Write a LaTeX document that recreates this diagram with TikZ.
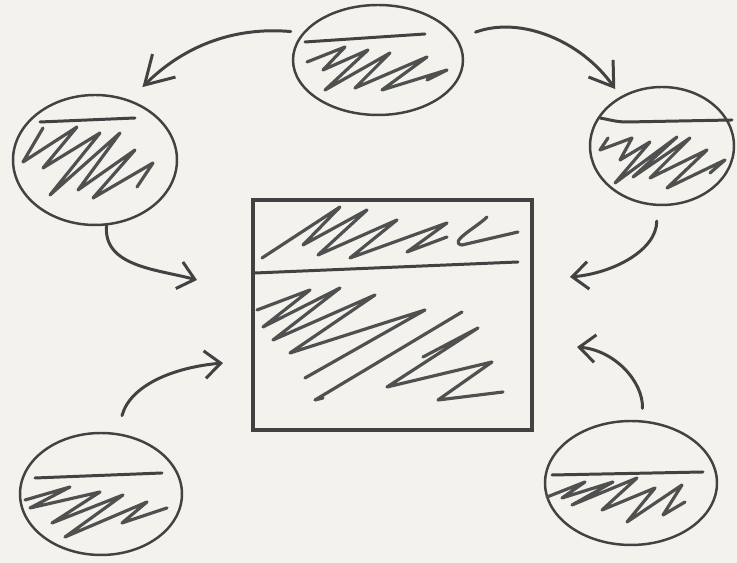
\documentclass[tikz,border=0pt]{standalone}
\usepackage{tikz}
\usetikzlibrary{arrows.meta, shapes.geometric}
\definecolor{paper}{RGB}{243,242,237}
\definecolor{ink}{RGB}{66,66,66}
\definecolor{pencil}{RGB}{80,80,80}

\begin{document}
\begin{tikzpicture}[x=0.02cm, y=0.02cm, >={Straight Barb[length=0.32cm, width=0.55cm]},
  bubble/.style={ellipse, draw=ink, line width=1.4pt, inner sep=0pt},
  board/.style={rectangle, draw=ink, line width=1.8pt, inner sep=0pt},
  divider/.style={ink, line width=1.7pt, line cap=round},
  hatch/.style={pencil, line width=1.8pt, line cap=round, line join=round},
  flow/.style={ink, line width=1.7pt, line cap=round, ->}]

  % Paper
  \fill[paper] (0,0) rectangle (737,563);
  \useasboundingbox (0,0) rectangle (737,563);

  % Bubbles round the board
  \node[bubble, minimum width=3.4cm, minimum height=2.2cm] (bubTop) at (378,503) {};
  \node[bubble, minimum width=3.28cm, minimum height=2.6cm] (bubLeft) at (95,403) {};
  \node[bubble, minimum width=2.88cm, minimum height=2.36cm] (bubRight) at (662,417) {};
  \node[bubble, minimum width=3.24cm, minimum height=2.44cm] (bubLowL) at (101,69) {};
  \node[bubble, minimum width=3.44cm, minimum height=2.48cm] (bubLowR) at (631,80) {};

  % Central board
  \node[board, minimum width=5.58cm, minimum height=4.6cm] (main) at (392.5,248) {};
  \draw[divider] (255,290) -- (518,301);

  % Bubble headers
  \draw[divider] (305,521) -- (425,529);
  \draw[divider] (40,441) -- (135,445);
  \draw[divider] (600,445) to[out=-10, in=180] (627,441) -- (732,443);
  \draw[divider] (35,85) -- (162,90);
  \draw[divider] (552,88) -- (703,91);

  % Scribbles
  \draw[hatch] (307,501) -- (345,516) -- (323,493) -- (368,513) -- (325,473) -- (390,510)
    -- (355,475) -- (427,506) -- (382,473) -- (447,493) -- (427,483);
  \draw[hatch] (43,435) -- (23,401) -- (77,436) -- (43,395) -- (100,430) -- (50,368)
    -- (120,430) -- (78,373) -- (135,413) -- (93,365) -- (153,400) -- (137,376);
  \draw[hatch] (608,425) -- (600,413) -- (632,425) -- (620,403) -- (650,421) -- (615,380)
    -- (677,426) -- (633,386) -- (690,425) -- (650,385) -- (707,413) -- (667,375)
    -- (725,403) -- (710,390);
  \draw[hatch] (25,63) -- (70,76) -- (30,55) -- (100,71) -- (52,40) -- (123,68)
    -- (65,26) -- (147,61) -- (122,40) -- (167,55);
  \draw[hatch] (547,66) -- (585,81) -- (562,65) -- (613,81) -- (572,58) -- (637,85)
    -- (602,53) -- (655,75) -- (627,41) -- (682,78) -- (663,48) -- (685,61);

  % Board scribbles
  \draw[hatch] (262,305) -- (340,356) -- (303,318) -- (367,353) -- (318,308) -- (397,343)
    -- (350,305) -- (447,340) -- (407,311) -- (447,326);
  \draw[hatch] (487,346) to[out=225, in=170] (462,318) -- (518,331);
  \draw[hatch] (257,253) -- (310,273) -- (263,236) -- (340,275) -- (273,223) -- (375,268)
    -- (290,210) -- (425,253) -- (305,185);
  \draw[hatch] (462,251) -- (315,163) -- (323,165);
  \draw[hatch] (423,206) -- (478,235) -- (387,176) -- (492,201) -- (438,163) -- (503,171);

  % Arrow ends near the board
  \coordinate (inL) at (197,283);
  \coordinate (inR) at (570,286);
  \coordinate (inLowL) at (223,200);
  \coordinate (inLowR) at (577,216);

  % Flows
  \draw[flow, -{Straight Barb[length=0.55cm, width=0.65cm]}, shorten <=0.24cm, shorten >=0.36cm]
    (bubTop.160) to[out=175, in=45] (bubLeft.60);
  \draw[flow, -{Straight Barb[length=0.45cm, width=0.6cm]}, shorten <=0.38cm, shorten >=0.18cm]
    (bubTop.15) to[out=20, in=125] (bubRight.130);
  \draw[flow] (bubLeft.280) to[out=265, in=165] (inL);
  \draw[flow, shorten <=0.3cm] (bubRight.265) to[out=-90, in=5] (inR);
  \draw[flow, shorten <=0.36cm] (bubLowL.75) to[out=75, in=185] (inLowL);
  \draw[flow, shorten <=0.24cm] (bubLowR.80) to[out=88, in=-5] (inLowR);

\end{tikzpicture}
\end{document}
